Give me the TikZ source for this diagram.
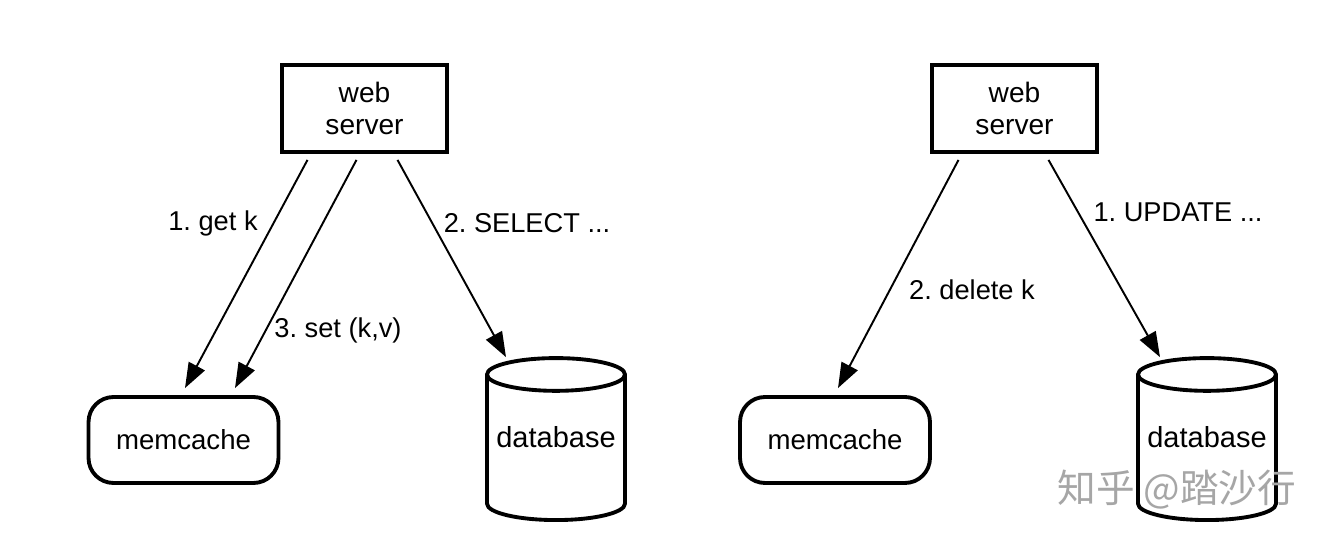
\documentclass[tikz,border=0pt]{standalone}
\usepackage{fontspec}
\setmainfont{Liberation Sans}
\newfontfamily\cjkfont{Noto Sans CJK SC}
\usetikzlibrary{shapes.geometric,arrows.meta,calc}
\frenchspacing

\begin{document}
\begin{tikzpicture}[x=0.02cm,y=-0.02cm,
  server/.style={draw,line width=2.2pt,minimum width=3.3cm,minimum height=1.74cm,
    align=center,font=\fontsize{16}{18.5}\selectfont},
  cache/.style={draw,line width=2.2pt,rounded corners=0.5cm,minimum width=3.8cm,
    minimum height=1.72cm,font=\fontsize{15.7}{18}\selectfont},
  store/.style={draw,cylinder,shape border rotate=90,line width=2.2pt,aspect=0.25,
    minimum width=2.76cm,minimum height=3.24cm,anchor=south,
    text height=12pt,text depth=17pt,font=\fontsize{16.5}{19}\selectfont},
  msg/.style={-{Triangle[length=0.5cm,width=0.36cm]},line width=1.1pt},
  lbl/.style={font=\fontsize{15.5}{18}\selectfont}]

% Frame
\useasboundingbox (0,0) rectangle (1332,546);

% Left: read path
\node[server] (ws1) at (364.5,108.5) {web\\server};
\node[cache] (mc1) at (183.5,440) {memcache};
\node[store] (db1) at (556,522) {database};

\draw[msg] ($(ws1.south)+(-57,6)$) -- ($(mc1.north)+(1.5,-7)$);
\draw[msg] ($(ws1.south)+(-8,6)$) -- ($(mc1.north)+(51.5,-7)$);
\draw[msg] ($(ws1.south)+(33,6)$) -- ($(db1.north)+(-50,1)$);

\node[lbl] (getk) at (213,223) {1. get k};
\node[lbl] (setkv) at (338,330) {3. set (k,v)};
\node[lbl] (select) at (527,223) {2. SELECT ...};

% Right: write path
\node[server] (ws2) at (1014.5,108.5) {web\\server};
\node[cache] (mc2) at (835,440) {memcache};
\node[store] (db2) at (1207,522) {database};

\draw[msg] ($(ws2.south)+(-56,6)$) -- ($(mc2.north)+(3,-7)$);
\draw[msg] ($(ws2.south)+(34,6)$) -- ($(db2.north)+(-47,1)$);

\node[lbl] (delk) at (972,290) {2. delete k};
\node[lbl] (update) at (1178,212) {1. UPDATE ...};

% Watermark
\node[text=black!35,font=\cjkfont\fontsize{22}{25}\selectfont] (mark) at (1177,490) {知乎 @踏沙行};
\end{tikzpicture}
\end{document}
